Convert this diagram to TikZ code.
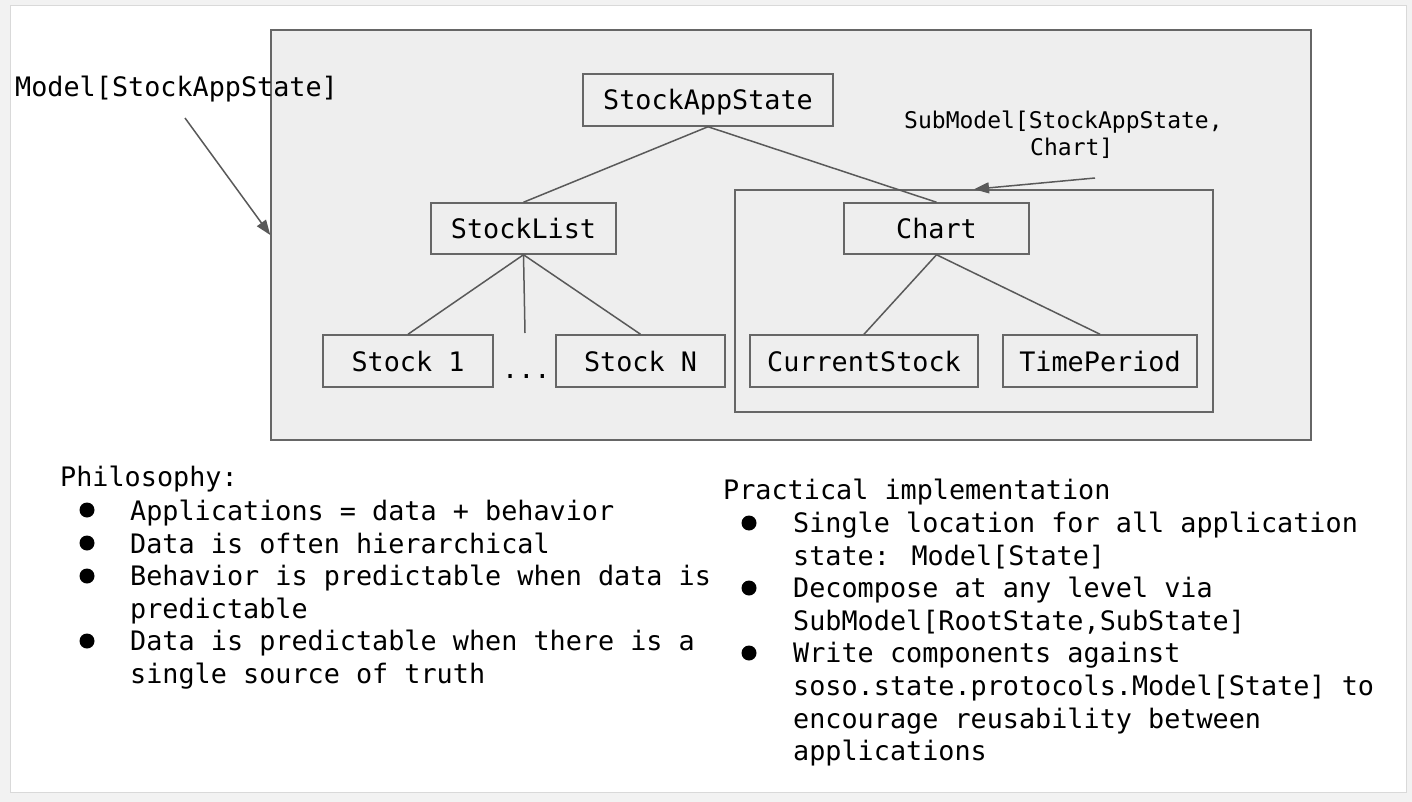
\documentclass[tikz,border=0pt]{standalone}
\usepackage{fontspec}
\newfontfamily\monofam{DejaVu Sans Mono}
\usetikzlibrary{arrows.meta}
\definecolor{bggrey}{HTML}{EEEEEE}
\definecolor{edgegrey}{HTML}{666666}
\definecolor{linegrey}{HTML}{595959}
\definecolor{outergrey}{HTML}{F2F2F2}
\definecolor{framegrey}{HTML}{D9D9D9}
\tikzset{
  bigfont/.style={font=\monofam\fontsize{26.8}{32.6}\selectfont},
  smallfont/.style={font=\monofam\fontsize{23}{27}\selectfont},
  boxnode/.style={draw=edgegrey, line width=1.5pt, fill=bggrey, inner sep=0pt, text height=20pt, text depth=0pt, bigfont},
  txt/.style={bigfont, anchor=base west, inner sep=0pt},
  smalltxt/.style={smallfont, anchor=base west, inner sep=0pt},
  conn/.style={draw=linegrey, line width=1.5pt},
  arr/.style={conn, -{Triangle[length=15pt,width=11pt]}},
  dotbullet/.style={circle, fill=black, inner sep=0pt, minimum size=15pt},
}
\begin{document}
\begin{tikzpicture}[x=1pt,y=-1pt]
\useasboundingbox (0,0) rectangle (1412,802);
\fill[outergrey] (0,0) rectangle (1412,802);
\draw[framegrey, fill=white, line width=1pt] (10,6) rectangle (1406,792);

% containers
\node[draw=edgegrey, line width=1.5pt, fill=bggrey, minimum width=1040pt, minimum height=410pt, inner sep=0pt] (main) at (791,235) {};
\node[draw=edgegrey, line width=1.5pt, minimum width=478pt, minimum height=222pt, inner sep=0pt] (sub) at (974,301) {};

% boxes
\node[boxnode, minimum width=250pt, minimum height=52pt] (sas) at (708,100) {StockAppState};
\node[boxnode, minimum width=185pt, minimum height=51pt] (sl) at (523.5,228.5) {StockList};
\node[boxnode, minimum width=185pt, minimum height=51pt] (chart) at (936.5,228.5) {Chart};
\node[boxnode, minimum width=170pt, minimum height=52pt] (s1) at (408,361) {Stock 1};
\node[boxnode, minimum width=169pt, minimum height=52pt] (sn) at (640.5,361) {Stock N};
\node[boxnode, minimum width=228pt, minimum height=52pt] (cs) at (864,361) {CurrentStock};
\node[boxnode, minimum width=194pt, minimum height=52pt] (tp) at (1100,361) {TimePeriod};
\node[txt] (dots) at (502,378) {...};
\coordinate (mid) at (525,333);

% connectors
\draw[conn] (sas.south) -- (sl.north);
\draw[conn] (sas.south) -- (chart.north);
\draw[conn] (sl.south) -- (s1.north);
\draw[conn] (sl.south) -- (mid);
\draw[conn] (sl.south) -- (sn.north);
\draw[conn] (chart.south) -- (cs.north);
\draw[conn] (chart.south) -- (tp.north);

% labels and arrows
\node[txt] (mlabel) at (15,97) {Model[StockAppState]};
\coordinate (m0) at (185,118);
\draw[arr] (m0) -- (main.west);
\node[smalltxt] (sublabel1) at (904,129) {SubModel[StockAppState,};
\node[smalltxt] (sublabel2) at (1030,156) {Chart]};
\coordinate (s0) at (1095,178);
\draw[arr] (s0) -- (sub.north);

% Philosophy
\node[txt] (ph) at (60,486) {Philosophy:};
\node[txt] (la1) at (130,520) {Applications = data + behavior};
\node[txt] (la2) at (130,553) {Data is often hierarchical};
\node[txt] (la3) at (130,585) {Behavior is predictable when data is};
\node[txt] (la4) at (130,618) {predictable};
\node[txt] (la5) at (130,650) {Data is predictable when there is a};
\node[txt] (la6) at (130,683) {single source of truth};
\node[dotbullet] (lb1) at (87,510) {};
\node[dotbullet] (lb2) at (87,543) {};
\node[dotbullet] (lb3) at (87,576) {};
\node[dotbullet] (lb4) at (87,641) {};

% Practical implementation
\node[txt] (pi) at (723,499) {Practical implementation};
\node[txt] (r1) at (793,532) {Single location for all application};
\node[txt] (r2) at (793,565) {state: Model[State]};
\node[txt] (r3) at (793,597) {Decompose at any level via};
\node[txt] (r4) at (793,630) {SubModel[RootState,SubState]};
\node[txt] (r5) at (793,662) {Write components against};
\node[txt] (r6) at (793,695) {soso.state.protocols.Model[State] to};
\node[txt] (r7) at (793,728) {encourage reusability between};
\node[txt] (r8) at (793,760) {applications};
\node[dotbullet] (rb1) at (749,523) {};
\node[dotbullet] (rb2) at (749,588) {};
\node[dotbullet] (rb3) at (749,653) {};
\end{tikzpicture}
\end{document}
